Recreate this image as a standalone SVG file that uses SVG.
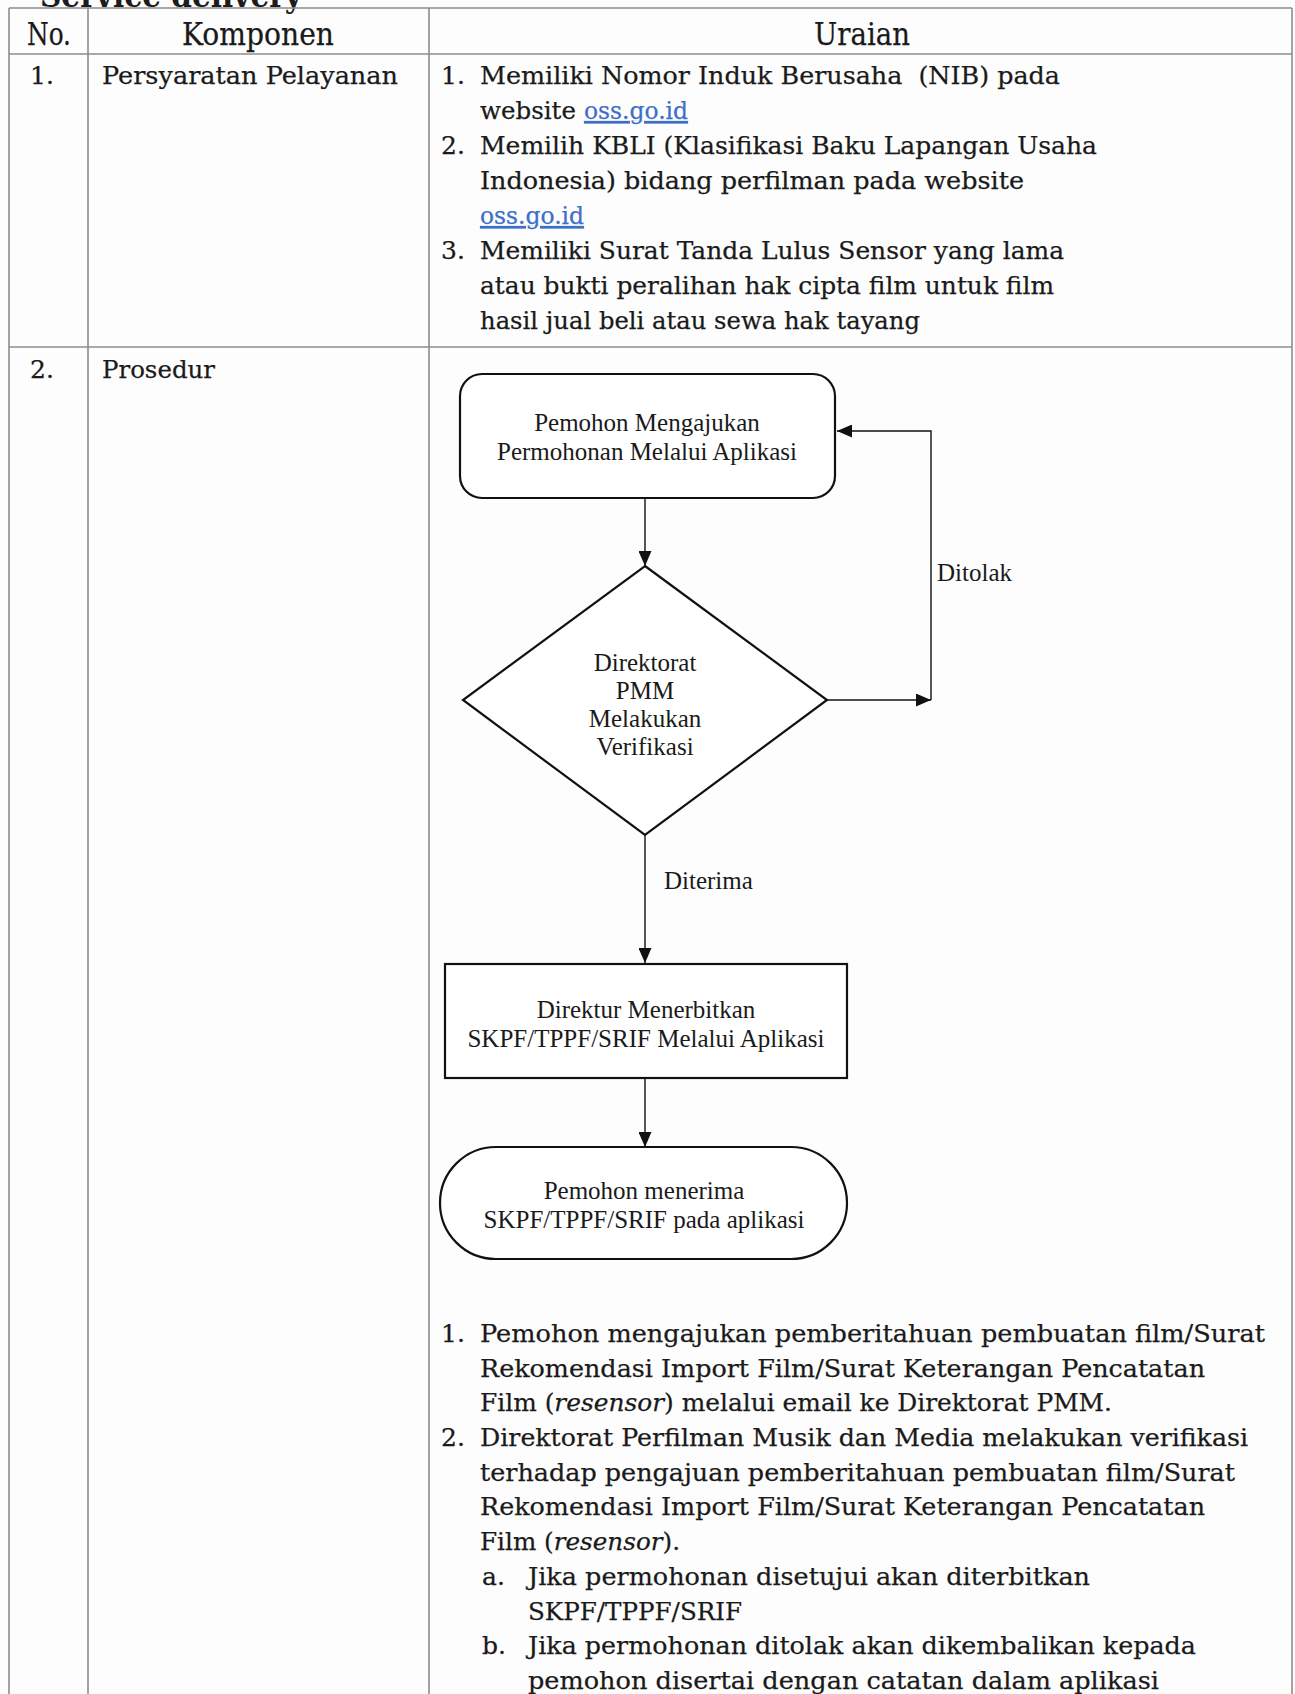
<svg xmlns="http://www.w3.org/2000/svg" width="1295" height="1694" viewBox="0 0 1295 1694">
  <style>
    .grid { stroke: #8c8c8c; stroke-width: 1.6; fill: none; }
    .t { font-family: "DejaVu Serif", "Liberation Serif", serif; font-size: 25px; fill: #1a1a1a; stroke: #1a1a1a; stroke-width: 0.25; }
    .h { font-size: 31px; text-anchor: middle; }
    .title { font-family: "DejaVu Serif", "Liberation Serif", serif; font-size: 31px; font-weight: bold; fill: #1c1c1c; }
    .link { fill: #3d6fc9; stroke: #3d6fc9; text-decoration: underline; }
    .fc { font-family: "Liberation Serif", "Times New Roman", serif; font-size: 25px; fill: #1a1a1a; text-anchor: middle; }
    .lbl { font-family: "Liberation Serif", "Times New Roman", serif; font-size: 25px; fill: #1a1a1a; }
    .node { fill: #ffffff; stroke: #111111; stroke-width: 2.2; }
    .edge { fill: none; stroke: #111111; stroke-width: 1.4; }
  </style>
  <defs>
    <marker id="arrow" markerUnits="userSpaceOnUse" markerWidth="15" markerHeight="13" refX="15" refY="6.5" orient="auto">
      <path d="M0,0 L15,6.5 L0,13 z" fill="#111111"/>
    </marker>
  </defs>

  <rect width="1295" height="1694" fill="#fdfdfd"/>

  <!-- section title, cut by the top edge -->
  <text class="title" x="40" y="7" textLength="262" lengthAdjust="spacingAndGlyphs">Service delivery</text>

  <!-- table grid -->
  <g id="table-grid">
    <line class="grid" x1="9" y1="8" x2="1292" y2="8"/>
    <line class="grid" x1="9" y1="54" x2="1292" y2="54"/>
    <line class="grid" x1="9" y1="347" x2="1292" y2="347"/>
    <line class="grid" x1="9" y1="8" x2="9" y2="1694"/>
    <line class="grid" x1="88" y1="8" x2="88" y2="1694"/>
    <line class="grid" x1="429" y1="8" x2="429" y2="1694"/>
    <line class="grid" x1="1292" y1="8" x2="1292" y2="1694"/>
  </g>

  <!-- header row -->
  <g id="header">
    <text class="t h" x="49" y="45" textLength="44" lengthAdjust="spacingAndGlyphs">No.</text>
    <text class="t h" x="258" y="45" textLength="152" lengthAdjust="spacingAndGlyphs">Komponen</text>
    <text class="t h" x="862" y="45" textLength="96" lengthAdjust="spacingAndGlyphs">Uraian</text>
  </g>

  <!-- row 1: requirements -->
  <g id="row-persyaratan">
    <text class="t" x="30" y="84">1.</text>
    <text class="t" x="102" y="84" textLength="296" lengthAdjust="spacingAndGlyphs">Persyaratan Pelayanan</text>

    <text class="t" x="441" y="84">1.</text>
    <text class="t" x="480" y="84" textLength="580" lengthAdjust="spacingAndGlyphs" xml:space="preserve">Memiliki Nomor Induk Berusaha  (NIB) pada</text>
    <text class="t" x="480" y="119" textLength="96" lengthAdjust="spacingAndGlyphs">website</text>
    <text class="t link" x="584" y="119" textLength="104" lengthAdjust="spacingAndGlyphs">oss.go.id</text>

    <text class="t" x="441" y="154">2.</text>
    <text class="t" x="480" y="154" textLength="617" lengthAdjust="spacingAndGlyphs">Memilih KBLI (Klasifikasi Baku Lapangan Usaha</text>
    <text class="t" x="480" y="189" textLength="544" lengthAdjust="spacingAndGlyphs">Indonesia) bidang perfilman pada website</text>
    <text class="t link" x="480" y="224" textLength="104" lengthAdjust="spacingAndGlyphs">oss.go.id</text>

    <text class="t" x="441" y="259">3.</text>
    <text class="t" x="480" y="259" textLength="584" lengthAdjust="spacingAndGlyphs">Memiliki Surat Tanda Lulus Sensor yang lama</text>
    <text class="t" x="480" y="294" textLength="574" lengthAdjust="spacingAndGlyphs">atau bukti peralihan hak cipta film untuk film</text>
    <text class="t" x="480" y="329" textLength="440" lengthAdjust="spacingAndGlyphs">hasil jual beli atau sewa hak tayang</text>
  </g>

  <!-- row 2: procedure -->
  <g id="row-prosedur">
    <text class="t" x="30" y="378">2.</text>
    <text class="t" x="102" y="378" textLength="113" lengthAdjust="spacingAndGlyphs">Prosedur</text>
  </g>

  <!-- flowchart connectors -->
  <g id="connectors">
    <path class="edge" d="M645,498 V566" marker-end="url(#arrow)"/>
    <path class="edge" d="M827,700 H931" marker-end="url(#arrow)"/>
    <path class="edge" d="M931,700 V431 H837" marker-end="url(#arrow)"/>
    <path class="edge" d="M645,835 V963" marker-end="url(#arrow)"/>
    <path class="edge" d="M645,1078 V1147" marker-end="url(#arrow)"/>
    <text class="lbl" x="937" y="581">Ditolak</text>
    <text class="lbl" x="664" y="889">Diterima</text>
  </g>

  <!-- flowchart nodes -->
  <g id="node-pengajuan">
    <rect class="node" x="460" y="374" width="375" height="124" rx="22"/>
    <text class="fc" x="647" y="431">Pemohon Mengajukan</text>
    <text class="fc" x="647" y="460">Permohonan Melalui Aplikasi</text>
  </g>

  <g id="node-verifikasi">
    <polygon class="node" points="645,566 827,700 645,835 463,700"/>
    <text class="fc" x="645" y="671">Direktorat</text>
    <text class="fc" x="645" y="699">PMM</text>
    <text class="fc" x="645" y="727">Melakukan</text>
    <text class="fc" x="645" y="755">Verifikasi</text>
  </g>

  <g id="node-penerbitan">
    <rect class="node" x="445" y="964" width="402" height="114"/>
    <text class="fc" x="646" y="1018">Direktur Menerbitkan</text>
    <text class="fc" x="646" y="1047">SKPF/TPPF/SRIF Melalui Aplikasi</text>
  </g>

  <g id="node-penerimaan">
    <rect class="node" x="440" y="1147" width="407" height="112" rx="56"/>
    <text class="fc" x="644" y="1199">Pemohon menerima</text>
    <text class="fc" x="644" y="1228">SKPF/TPPF/SRIF pada aplikasi</text>
  </g>

  <!-- procedure steps -->
  <g id="langkah">
    <text class="t" x="441" y="1342">1.</text>
    <text class="t" x="480" y="1342" textLength="785" lengthAdjust="spacingAndGlyphs">Pemohon mengajukan pemberitahuan pembuatan film/Surat</text>
    <text class="t" x="480" y="1377" textLength="725" lengthAdjust="spacingAndGlyphs">Rekomendasi Import Film/Surat Keterangan Pencatatan</text>
    <text class="t" x="480" y="1411" textLength="632" lengthAdjust="spacingAndGlyphs">Film (<tspan font-style="italic">resensor</tspan>) melalui email ke Direktorat PMM.</text>

    <text class="t" x="441" y="1446">2.</text>
    <text class="t" x="480" y="1446" textLength="768" lengthAdjust="spacingAndGlyphs">Direktorat Perfilman Musik dan Media melakukan verifikasi</text>
    <text class="t" x="480" y="1481" textLength="755" lengthAdjust="spacingAndGlyphs">terhadap pengajuan pemberitahuan pembuatan film/Surat</text>
    <text class="t" x="480" y="1515" textLength="725" lengthAdjust="spacingAndGlyphs">Rekomendasi Import Film/Surat Keterangan Pencatatan</text>
    <text class="t" x="480" y="1550" textLength="200" lengthAdjust="spacingAndGlyphs">Film (<tspan font-style="italic">resensor</tspan>).</text>

    <text class="t" x="482" y="1585">a.</text>
    <text class="t" x="528" y="1585" textLength="562" lengthAdjust="spacingAndGlyphs">Jika permohonan disetujui akan diterbitkan</text>
    <text class="t" x="528" y="1620" textLength="214" lengthAdjust="spacingAndGlyphs">SKPF/TPPF/SRIF</text>
    <text class="t" x="482" y="1654">b.</text>
    <text class="t" x="528" y="1654" textLength="668" lengthAdjust="spacingAndGlyphs">Jika permohonan ditolak akan dikembalikan kepada</text>
    <text class="t" x="528" y="1689" textLength="631" lengthAdjust="spacingAndGlyphs">pemohon disertai dengan catatan dalam aplikasi</text>
  </g>
</svg>
